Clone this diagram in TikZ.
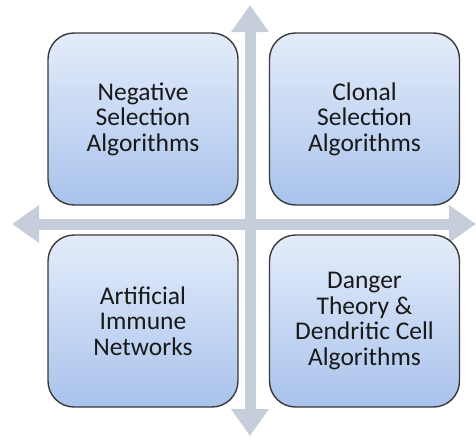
\documentclass[tikz,border=0pt]{standalone}
\usepackage{fontspec}
\setmainfont{Carlito}
\usepackage{tikz}
\usetikzlibrary{arrows.meta}
\definecolor{boxtop}{HTML}{E4ECFA}
\definecolor{boxbot}{HTML}{A9C3EC}
\definecolor{boxline}{HTML}{3A3A3A}
\definecolor{axisgray}{HTML}{C6CEDB}

\begin{document}
\begin{tikzpicture}[x=1pt,y=-1pt,
    algbox/.style={draw=boxline,line width=1.4pt,rounded corners=26pt,
      top color=boxtop,bottom color=boxbot,
      minimum width=190pt,minimum height=172pt,align=center,
      text=black!90,font=\fontsize{25.5}{25.5}\selectfont},
    axis/.style={draw=axisgray,line width=11pt,
      {Triangle[width=36pt,length=27pt]}-{Triangle[width=36pt,length=27pt]}}]
    \useasboundingbox (0,0) rectangle (476,439);
    % the cross
    \coordinate (top) at (250,5);
    \coordinate (bottom) at (250,436);
    \coordinate (left) at (12,224);
    \coordinate (right) at (476,224);
    \draw[axis] (top) -- (bottom);
    \draw[axis] (left) -- (right);
    % the four families
    \node[algbox] (negsel) at (143,119) {Negative\\Selection\\Algorithms};
    \node[algbox] (clonal) at (364.5,119) {Clonal\\Selection\\Algorithms};
    \node[algbox] (immnet) at (143,321) {Artificial\\Immune\\Networks};
    \node[algbox] (danger) at (364.5,321) {Danger\\Theory \&\\Dendritic Cell\\Algorithms};
  \end{tikzpicture}
\end{document}
